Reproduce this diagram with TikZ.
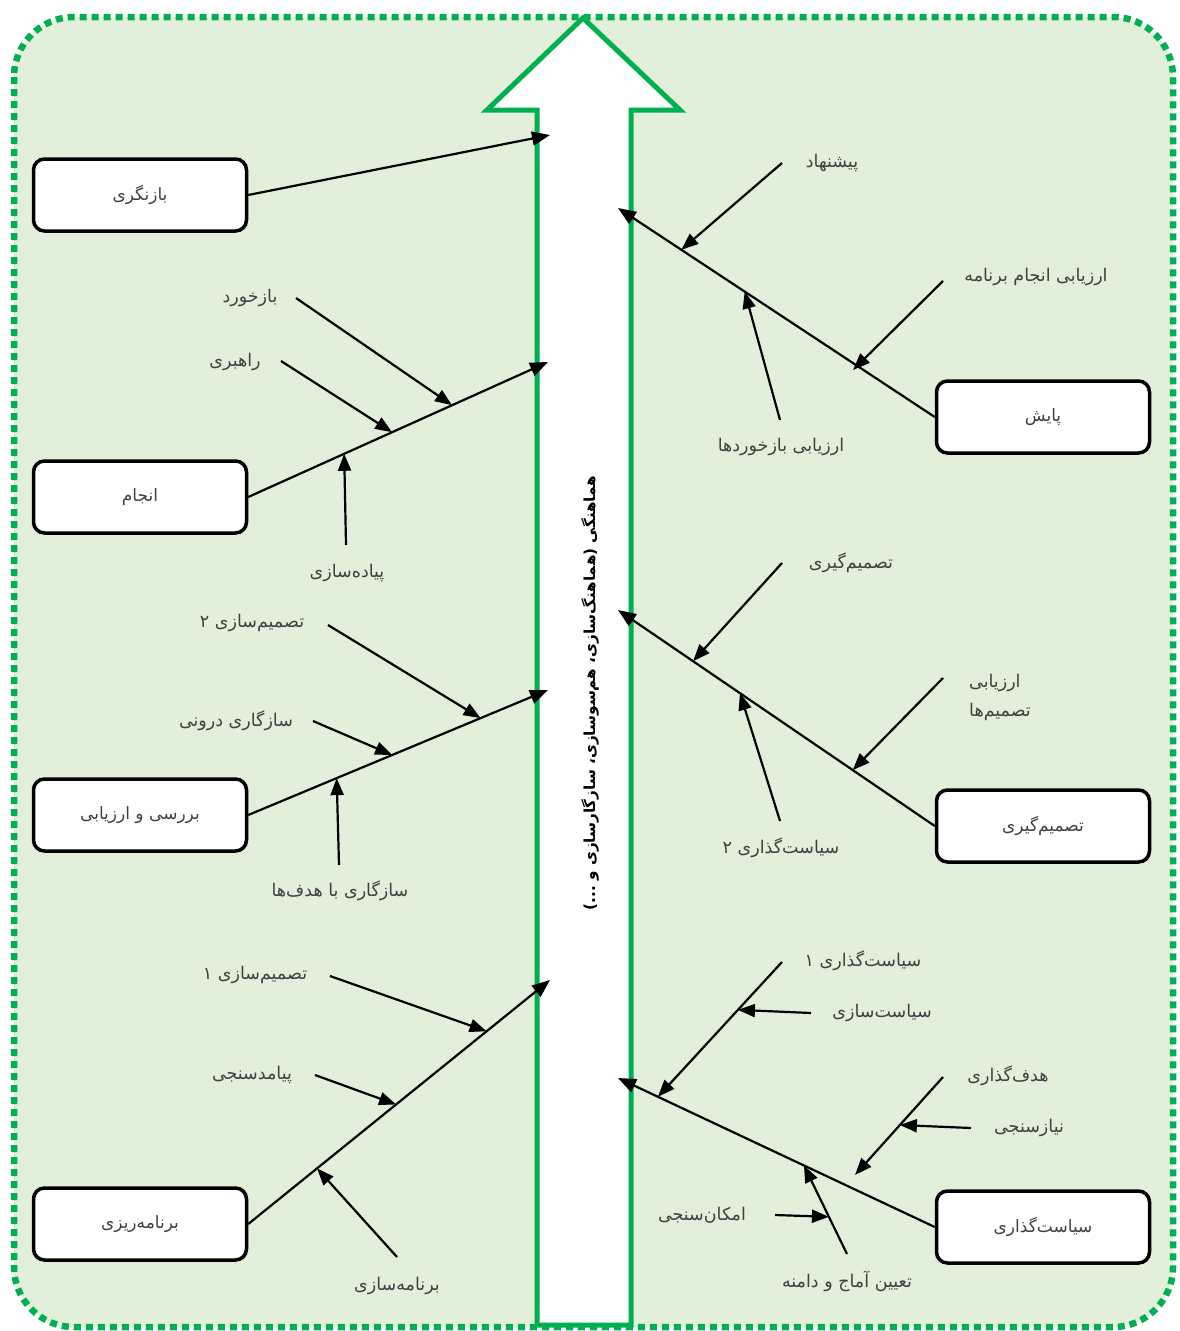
\documentclass[tikz,border=0pt]{standalone}
\usepackage{fontspec}
\newfontfamily\fa[Script=Arabic]{DejaVu Sans}
\TeXXeTstate=1
\usetikzlibrary{arrows.meta,calc}
\definecolor{bgg}{HTML}{E2EFDA}
\definecolor{grn}{HTML}{00B050}
\definecolor{txt}{HTML}{404040}
\newcommand{\rtl}[1]{\beginR #1\endR}
\begin{document}
\begin{tikzpicture}[x=1pt,y=-1pt,
  box/.style={draw=black,line width=3.5pt,rounded corners=11pt,fill=white,minimum width=213pt,minimum height=72pt,font=\fa\fontsize{17}{20}\selectfont,text=txt},
  lbl/.style={font=\fa\fontsize{17.5}{21}\selectfont,text=txt,inner sep=1pt},
  bone/.style={draw=black,line width=2.2pt,-{Triangle[length=18pt,width=14pt]}},
  twig/.style={draw=black,line width=2.2pt,-{Triangle[length=17pt,width=13pt]}}]
\useasboundingbox (0,0) rectangle (1180,1331);
% frame
\draw[grn,line width=6.5pt,dash pattern=on 7pt off 5pt,fill=bgg,rounded corners=60pt] (14,17) rectangle (1173,1327);
% big arrow
\draw[grn,line width=5pt,fill=white,line join=miter] (583,18) -- (680,110) -- (631,110) -- (631,1325) -- (537,1325) -- (537,110) -- (487,110) -- cycle;
\node[rotate=90,font=\fa\bfseries\fontsize{15.2}{18}\selectfont,text=black] (axis) at (590,693) {\rtl{هماهنگی (هماهنگ^^^^200cسازی، هم^^^^200cسوسازی، سازگارسازی و ...)}};
% arrow tips on the shaft
\coordinate (tA) at (550,135);
\coordinate (tB) at (548,362);
\coordinate (tC) at (548,690);
\coordinate (tD) at (550,980);
\coordinate (tE) at (618,208);
\coordinate (tF) at (618,610);
\coordinate (tG) at (618,1078);
% boxes
\node[box] (bA) at (140,195) {\rtl{بازنگری}};
\node[box] (bB) at (140,497) {\rtl{انجام}};
\node[box] (bC) at (140,815) {\rtl{بررسی و ارزیابی}};
\node[box] (bD) at (140,1224) {\rtl{برنامه^^^^200cریزی}};
\node[box] (bE) at (1043,417) {\rtl{پایش}};
\node[box] (bF) at (1043,826) {\rtl{تصمیم^^^^200cگیری}};
\node[box] (bG) at (1043,1227) {\rtl{سیاست^^^^200cگذاری}};
% bones
\draw[bone] (bA.east) -- (tA);
\draw[bone] (bB.east) -- (tB);
\draw[bone] (bC.east) -- (tC);
\draw[bone] (bD.east) -- (tD);
\draw[bone] (bE.west) -- (tE);
\draw[bone] (bF.west) -- (tF);
\draw[bone] (bG.west) -- (tG);
% labels
\node[lbl] (l1) at (250,298) {\rtl{بازخورد}};
\node[lbl] (l2) at (235,362) {\rtl{راهبری}};
\node[lbl] (l3) at (347,573) {\rtl{پیاده^^^^200cسازی}};
\node[lbl] (l4) at (252,623) {\rtl{تصمیم^^^^200cسازی ۲}};
\node[lbl] (l5) at (236,721) {\rtl{سازگاری درونی}};
\node[lbl] (l6) at (340,891) {\rtl{سازگاری با هدف^^^^200cها}};
\node[lbl] (l7) at (255,975) {\rtl{تصمیم^^^^200cسازی ۱}};
\node[lbl] (l8) at (252,1075) {\rtl{پیامدسنجی}};
\node[lbl] (l9) at (397,1286) {\rtl{برنامه^^^^200cسازی}};
\node[lbl] (r1) at (832,163) {\rtl{پیشنهاد}};
\node[lbl] (r2) at (1036,277) {\rtl{ارزیابی انجام برنامه}};
\node[lbl] (r3) at (781,447) {\rtl{ارزیابی بازخوردها}};
\node[lbl] (r4) at (851,563) {\rtl{تصمیم^^^^200cگیری}};
\node[lbl,align=left] (r5) at (1000,697) {\rtl{ارزیابی}\\[8pt]\rtl{تصمیم^^^^200cها}};
\node[lbl] (r6) at (781,848) {\rtl{سیاست^^^^200cگذاری ۲}};
\node[lbl] (r7) at (863,961) {\rtl{سیاست^^^^200cگذاری ۱}};
\node[lbl] (r8) at (882,1013) {\rtl{سیاست^^^^200cسازی}};
\node[lbl] (r9) at (1008,1076) {\rtl{هدف^^^^200cگذاری}};
\node[lbl] (r10) at (1029,1128) {\rtl{نیازسنجی}};
\node[lbl] (r11) at (702,1215) {\rtl{امکان^^^^200cسنجی}};
\node[lbl] (r12) at (847,1281) {\rtl{تعیین آماج و دامنه}};
% twig start points
\coordinate (s1) at (296,298);
\coordinate (s2) at (281,361);
\coordinate (s3) at (346,545);
\coordinate (s4) at (328,625);
\coordinate (s5) at (313,721);
\coordinate (s6) at (339,865);
\coordinate (s7) at (330,976);
\coordinate (s8) at (315,1075);
\coordinate (s9) at (397,1257);
\coordinate (q1) at (782,163);
\coordinate (q2) at (943,281);
\coordinate (q3) at (780,420);
\coordinate (q4) at (782,563);
\coordinate (q5) at (943,678);
\coordinate (q6) at (780,821);
\coordinate (q7) at (782,962);
\coordinate (q8) at (811,1013);
\coordinate (q9) at (943,1077);
\coordinate (q10) at (971,1128);
\coordinate (q11) at (775,1215);
\coordinate (q12) at (847,1254);
% twig end points
\coordinate (e1) at ($(bB.east)!0.68!(tB)$);
\coordinate (e2) at ($(bB.east)!0.48!(tB)$);
\coordinate (e3) at ($(bB.east)!0.32!(tB)$);
\coordinate (e4) at ($(bC.east)!0.775!(tC)$);
\coordinate (e5) at ($(bC.east)!0.48!(tC)$);
\coordinate (e6) at ($(bC.east)!0.295!(tC)$);
\coordinate (e7) at ($(bD.east)!0.79!(tD)$);
\coordinate (e8) at ($(bD.east)!0.49!(tD)$);
\coordinate (e9) at ($(bD.east)!0.228!(tD)$);
\coordinate (f1) at ($(bE.west)!0.80!(tE)$);
\coordinate (f2) at (853,370);
\coordinate (f3) at ($(bE.west)!0.60!(tE)$);
\coordinate (f4) at ($(bF.west)!0.763!(tF)$);
\coordinate (f5) at ($(bF.west)!0.259!(tF)$);
\coordinate (f6) at ($(bF.west)!0.615!(tF)$);
\coordinate (f7) at ($(bG.west)!0.874!(tG)$);
\coordinate (f9) at (855,1175);
\coordinate (f12) at ($(bG.west)!0.413!(tG)$);
\coordinate (f8) at ($(q7)!0.355!(f7)$);
\coordinate (f10) at ($(q9)!0.49!(f9)$);
\coordinate (f11) at ($(q12)!0.42!(f12)$);
% twigs
\draw[twig] (s1) -- (e1);
\draw[twig] (s2) -- (e2);
\draw[twig] (s3) -- (e3);
\draw[twig] (s4) -- (e4);
\draw[twig] (s5) -- (e5);
\draw[twig] (s6) -- (e6);
\draw[twig] (s7) -- (e7);
\draw[twig] (s8) -- (e8);
\draw[twig] (s9) -- (e9);
\draw[twig] (q1) -- (f1);
\draw[twig] (q2) -- (f2);
\draw[twig] (q3) -- (f3);
\draw[twig] (q4) -- (f4);
\draw[twig] (q5) -- (f5);
\draw[twig] (q6) -- (f6);
\draw[twig] (q7) -- (f7);
\draw[twig] (q8) -- (f8);
\draw[twig] (q9) -- (f9);
\draw[twig] (q10) -- (f10);
\draw[twig] (q11) -- (f11);
\draw[twig] (q12) -- (f12);
\end{tikzpicture}
\end{document}
